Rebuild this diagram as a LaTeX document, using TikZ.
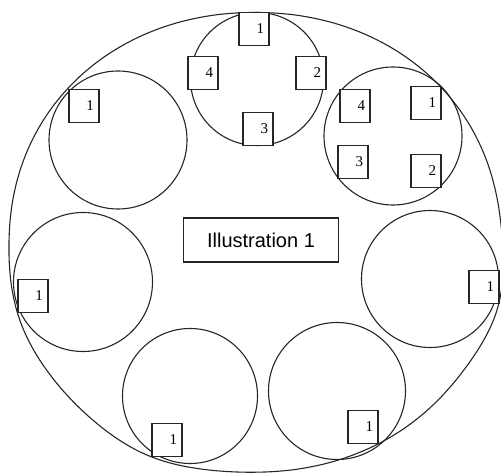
\documentclass[tikz,border=0pt]{standalone}
\usepackage{fontspec}
\setmainfont{Liberation Serif}
\newfontfamily\labfont{Liberation Sans}
\begin{document}
\begin{tikzpicture}[x=1pt,y=-1pt,
  declare function={gb(\d)=exp(-min(\d*\d,20));
    sf(\t)=1+0.024*gb((\t-15)/14)+0.024*gb((\t-375)/14)+0.016*gb((\t-114)/14)+0.01*gb((\t-162)/14);},
  ln/.style={line width=1.1pt, draw=black!85},
  circ/.style={ln, circle, inner sep=0pt},
  numbox/.style={ln, fill=white, rectangle, minimum height=33pt, inner xsep=5pt, inner ysep=0pt, text width=20pt, align=right, font=\fontsize{15}{15}\selectfont},
  titlebox/.style={ln, fill=white, rectangle, minimum width=155pt, minimum height=44pt, font=\labfont\fontsize{20}{20}\selectfont}
]
\useasboundingbox (0,0) rectangle (501,473);
% outer outline
\draw[ln] plot[domain=0.9:359.1, samples=200, smooth]
  ({255+245.5*sf(\x)*sign(cos(\x))*abs(cos(\x))^0.96},
   {241.5+(sin(\x)>0 ? 230.5 : 229)*sf(\x)*sign(sin(\x))*abs(sin(\x))^0.96}) -- cycle;
% small circles
\node[circ, minimum size=133pt] (ct) at (257,79) {};
\node[circ, minimum size=138pt] (cul) at (118,140) {};
\node[circ, minimum size=138pt] (cur) at (393,136) {};
\node[circ, minimum size=139pt] (cml) at (83,282) {};
\node[circ, minimum size=137pt] (cmr) at (430,279) {};
\node[circ, minimum size=135pt] (cbl) at (190,396) {};
\node[circ, minimum size=137pt] (cbr) at (337,391) {};
% boxes
\node[numbox] (t1) at (254,29) {1};
\node[numbox] (t4) at (203,73) {4};
\node[numbox] (t2) at (311,73) {2};
\node[numbox] (t3) at (258,129) {3};
\node[numbox] (r4) at (355,106) {4};
\node[numbox] (r1) at (426,103) {1};
\node[numbox] (r3) at (353,162) {3};
\node[numbox] (r2) at (426,171) {2};
\node[numbox] (ul1) at (84,106) {1};
\node[numbox] (ml1) at (33,296) {1};
\node[numbox] (mr1) at (484,287) {1};
\node[numbox] (bl1) at (167,440) {1};
\node[numbox] (br1) at (363,427) {1};
\node[titlebox] (title) at (261,240) {Illustration 1};
\end{tikzpicture}
\end{document}
